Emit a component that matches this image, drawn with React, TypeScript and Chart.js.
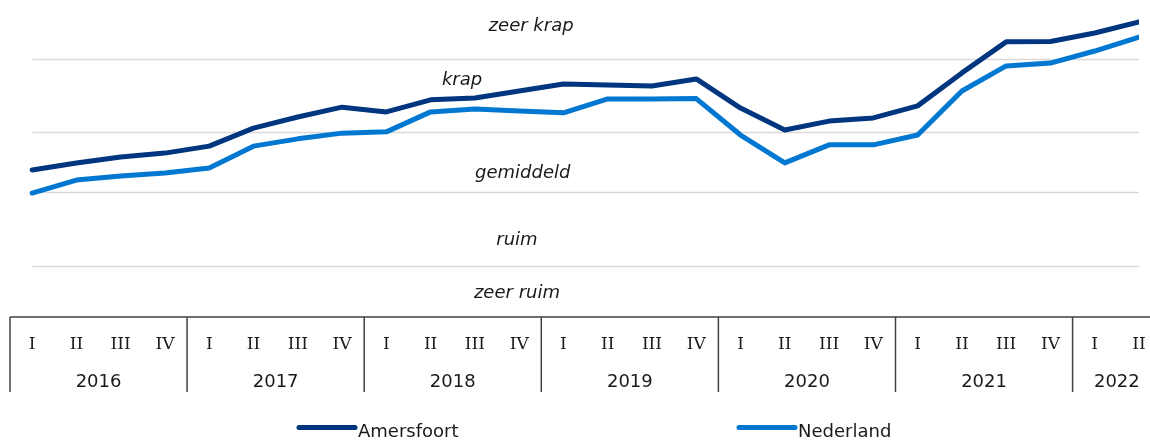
import React, { useEffect, useRef } from 'react';
import { Chart, registerables } from 'chart.js';

Chart.register(...registerables);

const quarters = [
  'I', 'II', 'III', 'IV', 'I', 'II', 'III', 'IV', 'I', 'II', 'III', 'IV',
  'I', 'II', 'III', 'IV', 'I', 'II', 'III', 'IV', 'I', 'II', 'III', 'IV',
  'I', 'II',
];
const years = ['2016', '2017', '2018', '2019', '2020', '2021', '2022'];

const amersfoort = [
  46.4, 48.6, 50.5, 51.7, 53.9, 59.6, 63.1, 66.2, 64.7, 68.5, 69.1, 71.3, 73.5,
  73.2, 72.9, 75.1, 65.9, 59.0, 61.8, 62.8, 66.6, 77.0, 86.8, 86.9, 89.6, 93.1,
];
const nederland = [
  39.1, 43.2, 44.5, 45.4, 47.0, 53.9, 56.2, 58.0, 58.4, 64.7, 65.6, 65.0, 64.4,
  68.8, 68.8, 68.9, 57.4, 48.6, 54.3, 54.3, 57.4, 71.3, 79.2, 80.1, 83.9, 88.3,
];

const zoneBoundaries = [16.1, 39.3, 58.3, 81.3];
const zoneLabels = ['zeer krap', 'krap', 'gemiddeld', 'ruim', 'zeer ruim'];
// label anchor positions (x as category index, y as value of baseline)
const zoneLabelX = [11.27, 9.71, 11.08, 10.95, 10.95];
const zoneLabelY = [90.2, 73.2, 43.8, 22.7, 6.0];

const seriesNames = ['Amersfoort', 'Nederland'];
const seriesColors = ['#00357f', '#0078d2'];

export default function App() {
  const ref = useRef<HTMLCanvasElement | null>(null);

  useEffect(() => {
    if (!ref.current) return;

    const decor = {
      id: 'decor',
      beforeDatasetsDraw(chart: any) {
        const { ctx, scales } = chart;
        const xs = scales.x;
        const ys = scales.y;
        ctx.save();
        ctx.strokeStyle = '#d9d9d9';
        ctx.lineWidth = 1.5;
        zoneBoundaries.forEach((v) => {
          const y = Math.round(ys.getPixelForValue(v)) + 0.5;
          ctx.beginPath();
          ctx.moveTo(xs.getPixelForValue(0), y);
          ctx.lineTo(xs.getPixelForValue(quarters.length - 1), y);
          ctx.stroke();
        });
        ctx.fillStyle = '#1a1a1a';
        ctx.font = 'italic 18px "DejaVu Sans"';
        ctx.textAlign = 'center';
        ctx.textBaseline = 'alphabetic';
        zoneLabels.forEach((t, i) => {
          ctx.fillText(t, xs.getPixelForValue(zoneLabelX[i]), ys.getPixelForValue(zoneLabelY[i]));
        });
        ctx.restore();
      },
      afterDraw(chart: any) {
        const { ctx, scales, chartArea, width } = chart;
        const xs = scales.x;
        const top = chartArea.bottom;
        ctx.save();
        ctx.strokeStyle = '#404040';
        ctx.lineWidth = 1.5;
        ctx.beginPath();
        ctx.moveTo(xs.getPixelForValue(-0.5), top);
        ctx.lineTo(width, top);
        ctx.stroke();
        for (let k = 0; k < years.length; k++) {
          const x = xs.getPixelForValue(k * 4 - 0.5);
          ctx.beginPath();
          ctx.moveTo(x, top);
          ctx.lineTo(x, top + 75);
          ctx.stroke();
        }
        ctx.fillStyle = '#1a1a1a';
        ctx.textAlign = 'center';
        ctx.textBaseline = 'alphabetic';
        ctx.font = '17px "DejaVu Serif"';
        quarters.forEach((q, i) => {
          ctx.fillText(q, xs.getPixelForValue(i), top + 32);
        });
        ctx.font = '18px "DejaVu Sans"';
        years.forEach((y, k) => {
          const n = Math.min(4, quarters.length - k * 4);
          ctx.fillText(y, xs.getPixelForValue(k * 4 + (n - 1) / 2), top + 70);
        });
        // legend
        const legendX = [297, 737];
        ctx.textAlign = 'left';
        ctx.lineCap = 'round';
        seriesNames.forEach((name, i) => {
          ctx.strokeStyle = seriesColors[i];
          ctx.lineWidth = 5;
          ctx.beginPath();
          ctx.moveTo(legendX[i] + 2, 427.5);
          ctx.lineTo(legendX[i] + 58, 427.5);
          ctx.stroke();
          ctx.fillStyle = '#1a1a1a';
          ctx.fillText(name, legendX[i] + 61, 437);
        });
        ctx.restore();
      },
    };

    const chart = new Chart(ref.current, {
      type: 'line',
      data: {
        datasets: [
          {
            label: seriesNames[0],
            data: amersfoort.map((v, i) => ({ x: i, y: v })),
            borderColor: seriesColors[0],
            borderWidth: 5,
            pointRadius: 0,
            fill: false,
            tension: 0,
            borderCapStyle: 'round',
            borderJoinStyle: 'round',
          },
          {
            label: seriesNames[1],
            data: nederland.map((v, i) => ({ x: i, y: v })),
            borderColor: seriesColors[1],
            borderWidth: 5,
            pointRadius: 0,
            fill: false,
            tension: 0,
            borderCapStyle: 'round',
            borderJoinStyle: 'round',
          },
        ],
      },
      options: {
        animation: false,
        responsive: false,
        layout: { padding: { left: 10, right: 11, top: 0, bottom: 124 } },
        plugins: { legend: { display: false }, tooltip: { enabled: false } },
        scales: {
          x: { type: 'linear', min: -0.5, max: quarters.length - 1, display: false },
          y: { type: 'linear', min: 0, max: 100, display: false },
        },
      },
      plugins: [decor],
    } as any);

    return () => chart.destroy();
  }, []);

  return (
    <div style={{ position: 'fixed', left: 0, top: 0, width: 1150, height: 441, background: '#fff' }}>
      <canvas ref={ref} width={1150} height={441} />
    </div>
  );
}
